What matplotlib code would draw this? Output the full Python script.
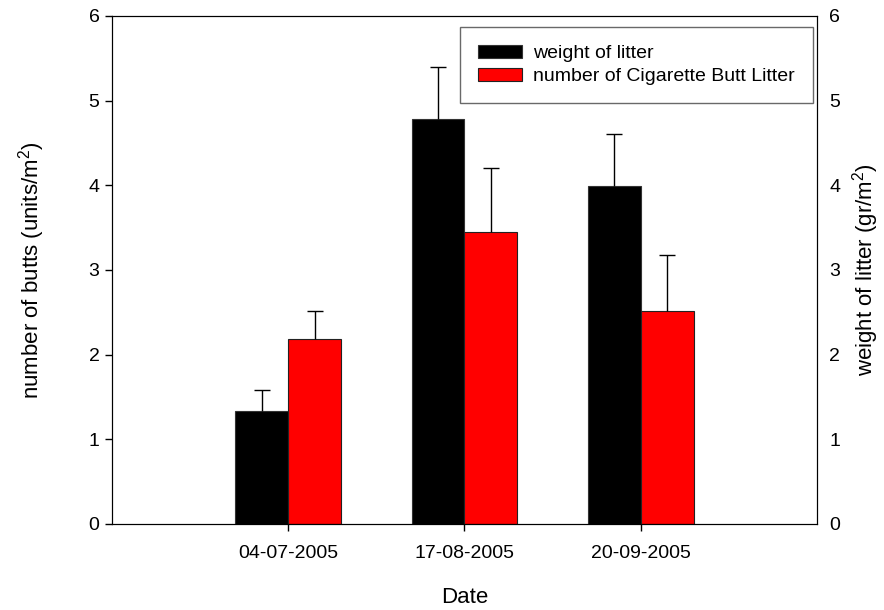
import numpy as np
import matplotlib
matplotlib.use("Agg")
import matplotlib.pyplot as plt

plt.rcParams['font.family'] = ['Liberation Sans', 'DejaVu Sans']
plt.rcParams['mathtext.default'] = 'regular'

# data
dates = ["04-07-2005", "17-08-2005", "20-09-2005"]
weight = [1.33, 4.78, 3.99]
weight_err = [0.25, 0.62, 0.62]
butts = [2.19, 3.45, 2.51]
butts_err = [0.32, 0.75, 0.67]

x = np.arange(1, len(dates) + 1)
w = 0.3

fig = plt.figure(figsize=(8.84, 6.10), dpi=100)
ax = fig.add_axes([0.1267, 0.141, 0.7975, 0.8328])

err_kw = dict(ecolor="black", elinewidth=1, capsize=6, capthick=1)
b1 = ax.bar(x - w / 2, weight, w, color="black", edgecolor="#333333", linewidth=0.8,
            yerr=[np.zeros(3), weight_err], error_kw=err_kw, label="weight of litter")
b2 = ax.bar(x + w / 2, butts, w, color="#ff0000", edgecolor="#222222", linewidth=0.8,
            yerr=[np.zeros(3), butts_err], error_kw=err_kw,
            label="number of Cigarette Butt Litter")
# only the upper cap is shown
for b in (b1, b2):
    b.errorbar.lines[1][0].set_visible(False)

ax.set_xlim(0, 4)
ax.set_ylim(0, 6)
ax.set_xticks(x)
ax.set_xticklabels(dates)
ax.set_yticks(range(7))
ax.tick_params(axis="both", direction="out", length=5, width=1, labelsize=14)
ax.tick_params(axis="x", pad=10)
ax.tick_params(axis="y", pad=4)
ax.set_xlabel("Date", fontsize=16, labelpad=18)
ax.set_ylabel("number of butts (units/m$^2$)", fontsize=16, labelpad=30)

ax2 = ax.twinx()
ax2.set_ylim(0, 6)
ax2.set_yticks(range(7))
ax2.tick_params(axis="y", length=0, pad=9, labelsize=14)
ax2.set_ylabel("weight of litter (gr/m$^2$)", fontsize=16, labelpad=7)

leg = ax.legend(loc="upper right", bbox_to_anchor=(0.9939, 0.9778),
                borderaxespad=0, fontsize=14, frameon=True, fancybox=False,
                handlelength=2.27, handleheight=0.65, handletextpad=0.6,
                labelspacing=0.3, borderpad=0.9)
leg.get_frame().set_edgecolor("#444444")
leg.get_frame().set_linewidth(1)

fig.savefig("out.png", dpi=100)
